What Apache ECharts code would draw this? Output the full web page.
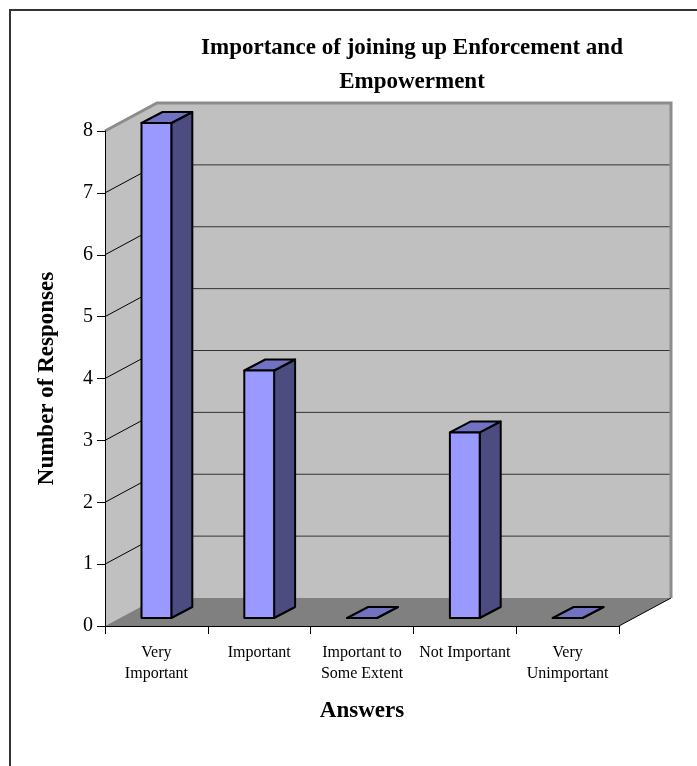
<!DOCTYPE html>
<html>
<head>
<meta charset="utf-8">
<script src="https://cdn.jsdelivr.net/npm/echarts@6.0.0/dist/echarts.min.js"></script>
<style>
  html, body { margin: 0; padding: 0; background: #fff; }
  #chart { width: 697px; height: 766px; }
</style>
</head>
<body>
<div id="chart"></div>
<script>
const categories = ["Very\nImportant", "Important", "Important to\nSome Extent", "Not Important", "Very\nUnimportant"];
const responses = [8, 4, 0, 3, 0];
const yTicks = [0, 1, 2, 3, 4, 5, 6, 7, 8];

const FONT = "'Liberation Serif', 'Times New Roman', serif";
// oblique depth of the walls and the bars (px)
const WALL_DX = 52;
const WALL_DY = 28;
const BAR_SHIFT_Y = 8;
const BAR_DX = 21;
const BAR_DY = 11;
const BAR_WIDTH_RATIO = 0.29;

function renderWalls(params, api) {
  const cs = params.coordSys;
  const x0 = cs.x;
  const x1 = cs.x + cs.width;
  const yTop = cs.y;
  const yBottom = cs.y + cs.height;
  const children = [];
  children.push({
    type: "polygon",
    shape: { points: [[x0, yTop], [x0, yBottom], [x0 + WALL_DX, yBottom - WALL_DY], [x0 + WALL_DX, yTop - WALL_DY]] },
    style: { fill: "#c0c0c0" },
  });
  children.push({
    type: "rect",
    shape: { x: x0 + WALL_DX, y: yTop - WALL_DY, width: x1 - x0, height: yBottom - yTop },
    style: { fill: "#c0c0c0" },
  });
  yTicks.forEach((v) => {
    if (v === yTicks[0] || v === yTicks[yTicks.length - 1]) return;
    const y = api.coord([0, v])[1];
    children.push({
      type: "line",
      shape: { x1: x0, y1: y, x2: x0 + WALL_DX, y2: y - WALL_DY },
      style: { stroke: "#000", lineWidth: 1 },
    });
    children.push({
      type: "line",
      shape: { x1: x0 + WALL_DX, y1: y - WALL_DY, x2: x1 + WALL_DX, y2: y - WALL_DY },
      style: { stroke: "#333", lineWidth: 1 },
    });
  });
  children.push({
    type: "polygon",
    shape: { points: [[x0, yBottom], [x1, yBottom], [x1 + WALL_DX, yBottom - WALL_DY], [x0 + WALL_DX, yBottom - WALL_DY]] },
    style: { fill: "#808080" },
  });
  children.push({
    type: "line",
    shape: { x1: x1, y1: yBottom, x2: x1 + WALL_DX, y2: yBottom - WALL_DY },
    style: { stroke: "#000", lineWidth: 1 },
  });
  children.push({
    type: "polyline",
    shape: { points: [[x0, yTop], [x0 + WALL_DX, yTop - WALL_DY], [x1 + WALL_DX, yTop - WALL_DY], [x1 + WALL_DX, yBottom - WALL_DY]] },
    style: { stroke: "#8c8c8c", lineWidth: 3, fill: null },
  });
  return { type: "group", children };
}

function renderBar(params, api) {
  const idx = api.value(0);
  const v = api.value(1);
  const base = api.coord([idx, 0]);
  const top = api.coord([idx, v]);
  const half = (api.size([1, 0])[0] * BAR_WIDTH_RATIO) / 2;
  const l = base[0] - half;
  const r = base[0] + half;
  const yb = base[1] - BAR_SHIFT_Y;
  const yt = top[1] - BAR_SHIFT_Y;
  const edge = { stroke: "#000", lineWidth: 2, lineJoin: "round" };
  return {
    type: "group",
    children: [
      {
        type: "polygon",
        shape: { points: [[r, yb], [r + BAR_DX, yb - BAR_DY], [r + BAR_DX, yt - BAR_DY], [r, yt]] },
        style: { fill: "#4c4c80", ...edge },
      },
      {
        type: "polygon",
        shape: { points: [[l, yt], [r, yt], [r + BAR_DX, yt - BAR_DY], [l + BAR_DX, yt - BAR_DY]] },
        style: { fill: "#7272c2", ...edge },
      },
      {
        type: "rect",
        shape: { x: l, y: yt, width: r - l, height: yb - yt },
        style: { fill: "#9999ff", ...edge },
      },
    ],
  };
}

const chart = echarts.init(document.getElementById("chart"));
chart.setOption({
  animation: false,
  backgroundColor: "#fff",
  graphic: [
    {
      type: "rect",
      shape: { x: 10, y: 10, width: 760, height: 800 },
      style: { fill: null, stroke: "#333", lineWidth: 2 },
    },
    {
      type: "text",
      x: 412,
      y: 31,
      style: {
        text: "Importance of joining up Enforcement and\nEmpowerment",
        fontFamily: FONT,
        fontSize: 23,
        fontWeight: "bold",
        lineHeight: 34,
        align: "center",
        verticalAlign: "top",
        fill: "#000",
      },
    },
  ],
  grid: { left: 105, right: 78, top: 131, bottom: 140, containLabel: false, outerBoundsMode: "none" },
  xAxis: {
    type: "category",
    data: categories,
    z: 5,
    name: "Answers",
    nameLocation: "middle",
    nameGap: 74,
    nameTextStyle: { fontFamily: FONT, fontSize: 23, fontWeight: "bold", color: "#000" },
    axisLine: { show: true, lineStyle: { color: "#000", width: 1 } },
    axisTick: { show: true, length: 8, lineStyle: { color: "#000" } },
    axisLabel: { interval: 0, margin: 16, fontFamily: FONT, fontSize: 16, lineHeight: 21, color: "#000" },
    splitLine: { show: false },
  },
  yAxis: {
    type: "value",
    min: yTicks[0],
    max: yTicks[yTicks.length - 1],
    interval: 1,
    z: 5,
    name: "Number of Responses",
    nameLocation: "middle",
    nameRotate: 90,
    nameGap: 46,
    nameTextStyle: { fontFamily: FONT, fontSize: 23, fontWeight: "bold", color: "#000" },
    axisLine: { show: true, lineStyle: { color: "#000", width: 1 } },
    axisTick: { show: true, length: 8, lineStyle: { color: "#000" } },
    axisLabel: { margin: 12, fontFamily: FONT, fontSize: 20, color: "#000" },
    splitLine: { show: false },
  },
  series: [
    {
      type: "custom",
      name: "walls",
      z: 1,
      clip: false,
      silent: true,
      renderItem: renderWalls,
      data: [[0, 0]],
      encode: { x: 0, y: 1 },
    },
    {
      type: "custom",
      name: "Responses",
      z: 6,
      clip: false,
      renderItem: renderBar,
      data: responses.map((v, i) => [i, v]),
      encode: { x: 0, y: 1 },
    },
  ],
});
</script>
</body>
</html>
